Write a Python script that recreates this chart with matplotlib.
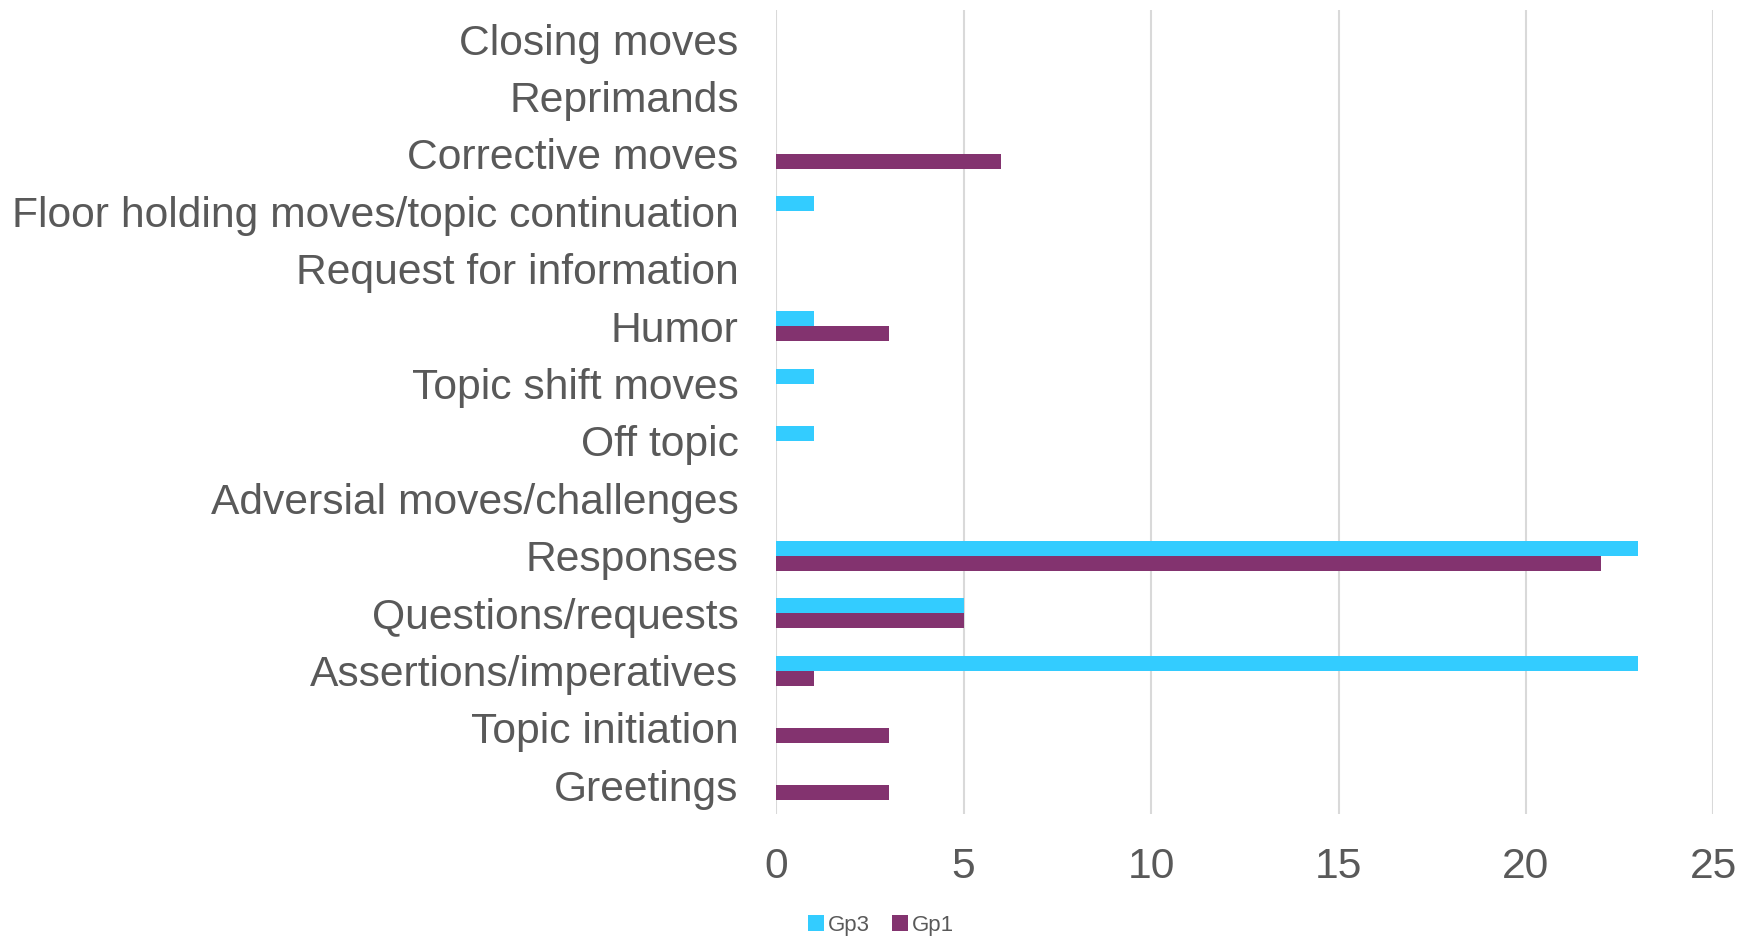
import numpy as np
import matplotlib.pyplot as plt

plt.rcParams['font.family'] = ['Liberation Sans', 'DejaVu Sans']

# categories, top to bottom as in the chart
categories = [
    "Closing moves", "Reprimands", "Corrective moves",
    "Floor holding moves/topic continuation", "Request for information",
    "Humor", "Topic shift moves", "Off topic", "Adversial moves/challenges",
    "Responses", "Questions/requests", "Assertions/imperatives",
    "Topic initiation", "Greetings",
]
gp3 = [0, 0, 0, 1, 0, 1, 1, 1, 0, 23, 5, 23, 0, 0]
gp1 = [0, 0, 6, 0, 0, 3, 0, 0, 0, 22, 5, 1, 3, 3]

text_color = "#595959"
c_gp3 = "#33CCFF"
c_gp1 = "#83336F"

fig = plt.figure(figsize=(17.52, 9.39), dpi=100)
ax = fig.add_axes([0.443, 0.133, 0.535, 0.856])

n = len(categories)
y = np.arange(n)[::-1]
h = 0.26
ax.barh(y + h / 2, gp3, height=h, color=c_gp3, label="Gp3", zorder=3)
ax.barh(y - h / 2, gp1, height=h, color=c_gp1, label="Gp1", zorder=3)

ax.set_xlim(0, 25)
ax.set_ylim(-0.5, n - 0.5)
ax.set_xticks(range(0, 26, 5))
ax.set_yticks(y)
ax.set_yticklabels(categories, va="center_baseline")
ax.tick_params(axis="both", length=0, labelsize=30.7, colors=text_color)
ax.tick_params(axis="y", pad=27)
ax.tick_params(axis="x", pad=24)
ax.grid(axis="x", color="#D9D9D9", linewidth=1.5, zorder=0)
for s in ax.spines.values():
    s.set_visible(False)

fig.legend(loc="lower center", bbox_to_anchor=(0.503, -0.018), ncol=2,
           frameon=False, fontsize=16, labelcolor=text_color,
           handlelength=0.7, handleheight=0.7, handletextpad=0.2,
           columnspacing=1.0)

fig.savefig("out.png", dpi=100)
